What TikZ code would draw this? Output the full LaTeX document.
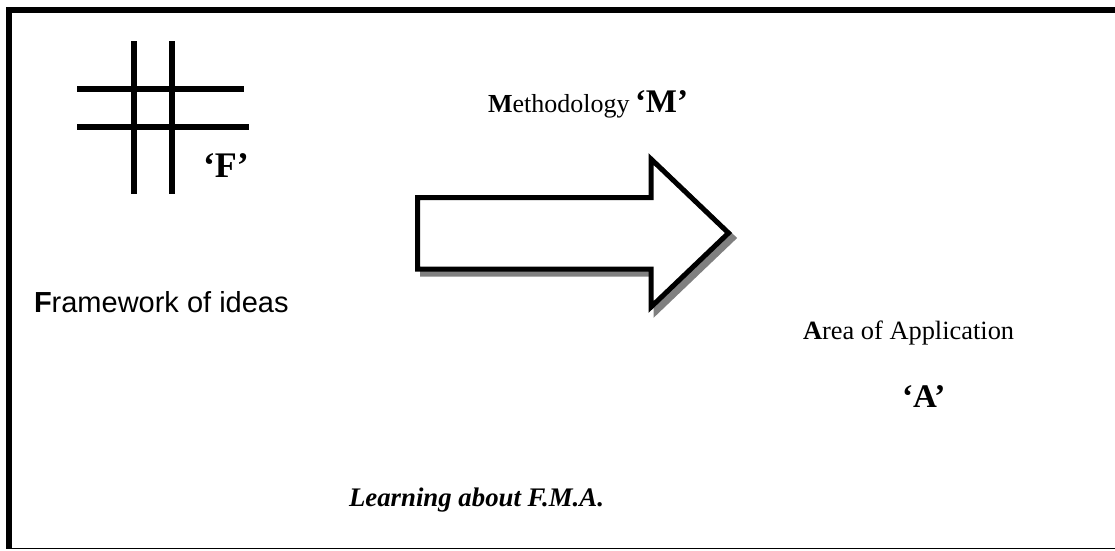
\documentclass[tikz,border=0pt]{standalone}
\usepackage{fontspec}
\setmainfont{Liberation Serif}
\newfontfamily\arialfont{Liberation Sans}
\begin{document}
\begin{tikzpicture}[x=1pt,y=-1pt,
  framethick/.style={line width=6pt},
  framethin/.style={line width=1.5pt},
  gridbar/.style={line width=6.5pt},
  blockarrow/.style={line width=5pt,draw=black,fill=white,line join=miter},
  blockshadow/.style={fill=black!50,draw=black!50,line width=5pt,line join=miter},
  lbl/.style={anchor=base west,inner sep=0pt,outer sep=0pt}]
\useasboundingbox (0,0) rectangle (1115,550);
\clip (0,0) rectangle (1115,550);
% outer frame (its right side lies beyond the page)
\draw[framethick] (1120,9.5) -- (9,9.5) -- (9,549);
\draw[framethin] (9,548.5) -- (1120,548.5);
% the grid symbol
\draw[gridbar] (134,41) -- (134,194);
\draw[gridbar] (172,41) -- (172,194);
\draw[gridbar] (77,89) -- (244,89);
\draw[gridbar] (77,127) -- (249,127);
\node[lbl,font=\bfseries\fontsize{36}{40}\selectfont] (F) at (203,177) {`F'};
% block arrow with drop shadow
\path[blockshadow,shift={(5,5)}] (417.5,197.5) -- (651,197.5) -- (651,159) -- (728.5,233) -- (651,307) -- (651,269) -- (417.5,269) -- cycle;
\draw[blockarrow] (417.5,197.5) -- (651,197.5) -- (651,159) -- (728.5,233) -- (651,307) -- (651,269) -- (417.5,269) -- cycle;
% labels
\node[lbl,font=\fontsize{26}{29}\selectfont] (meth) at (488,112) {\textbf{M}ethodology};
\node[lbl,font=\bfseries\fontsize{33}{36}\selectfont] (M) at (635,112) {`M'};
\node[lbl,font=\arialfont\fontsize{29}{32}\selectfont] (frame) at (34,312) {\textbf{F}ramework of ideas};
\node[lbl,font=\fontsize{26.4}{29}\selectfont] (area) at (803,339) {\textbf{A}rea of Application};
\node[lbl,font=\bfseries\fontsize{33}{36}\selectfont] (A) at (902,407) {`A'};
\node[lbl,font=\bfseries\itshape\fontsize{26.8}{30}\selectfont] (learn) at (349,506) {Learning about F.M.A.};
\end{tikzpicture}
\end{document}
